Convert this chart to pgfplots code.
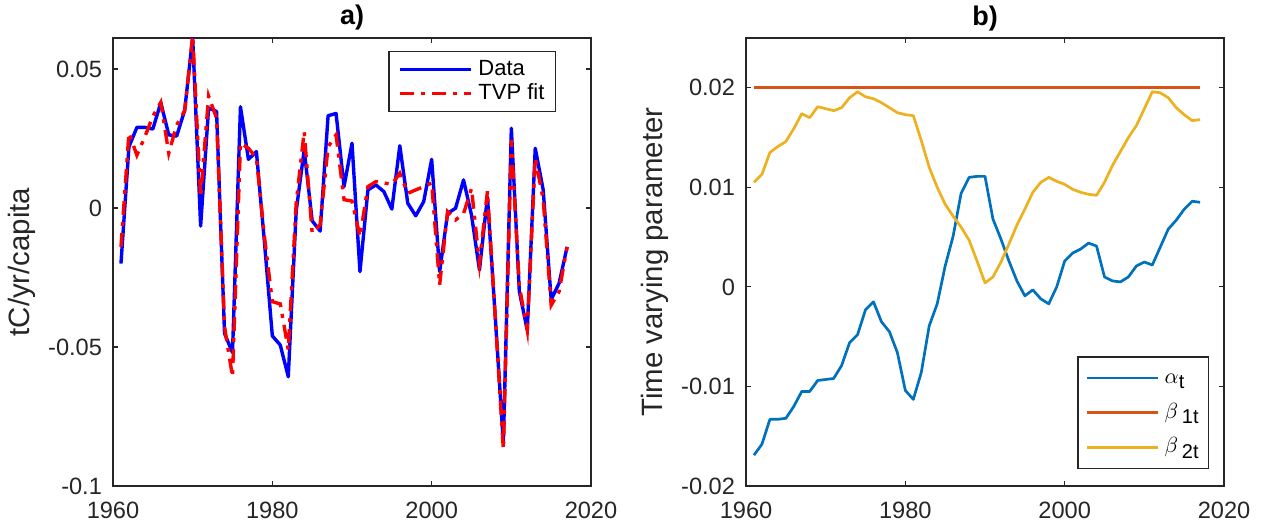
\documentclass[border=0pt]{standalone}
\usepackage{pgfplots}
\pgfplotsset{compat=1.18}
\usepackage{pgfplotstable}
\usepackage{fontspec}
\setmainfont{Liberation Sans}
\definecolor{axgray}{gray}{0.15}
\definecolor{mblue}{HTML}{0072BD}
\definecolor{morange}{HTML}{D95319}
\definecolor{myellow}{HTML}{EDB120}
\newcommand\sub[1]{\raisebox{-0.45ex}{\fontsize{10}{10}\selectfont #1}}

% panel a): per capita emissions change and TVP fit
\pgfplotstableread{
year data fit
1961 -0.0200 -0.0140
1962 0.0220 0.0270
1963 0.0290 0.0190
1964 0.0290 0.0256
1965 0.0284 0.0330
1966 0.0379 0.0380
1967 0.0263 0.0197
1968 0.0259 0.0299
1969 0.0352 0.0350
1970 0.0614 0.0620
1971 -0.0065 0.0040
1972 0.0360 0.0403
1973 0.0347 0.0323
1974 -0.0451 -0.0427
1975 -0.0520 -0.0607
1976 0.0364 0.0233
1977 0.0175 0.0215
1978 0.0203 0.0180
1979 -0.0120 -0.0100
1980 -0.0460 -0.0337
1981 -0.0493 -0.0345
1982 -0.0607 -0.0510
1983 -0.0010 0.0020
1984 0.0209 0.0275
1985 -0.0046 -0.0090
1986 -0.0083 -0.0060
1987 0.0332 0.0220
1988 0.0340 0.0263
1989 0.0077 0.0030
1990 0.0233 0.0025
1991 -0.0229 -0.0103
1992 0.0065 0.0077
1993 0.0083 0.0095
1994 0.0059 0.0090
1995 -0.0004 0.0085
1996 0.0224 0.0125
1997 0.0017 0.0053
1998 -0.0028 0.0065
1999 0.0023 0.0077
2000 0.0175 0.0090
2001 -0.0229 -0.0277
2002 -0.0019 -0.0013
2003 -0.0001 -0.0043
2004 0.0101 -0.0020
2005 -0.0025 0.0070
2006 -0.0223 -0.0200
2007 0.0040 0.0060
2008 -0.0400 -0.0400
2009 -0.0846 -0.0870
2010 0.0287 0.0245
2011 -0.0300 -0.0280
2012 -0.0439 -0.0440
2013 0.0215 0.0180
2014 0.0065 0.0030
2015 -0.0330 -0.0350
2016 -0.0270 -0.0300
2017 -0.0140 -0.0140
}\tabA

% panel b): time varying parameters
\pgfplotstableread{
year alpha beta1 beta2
1961 -0.0169 0.02 0.0105
1962 -0.0158 0.02 0.0113
1963 -0.0133 0.02 0.0135
1964 -0.0133 0.02 0.0141
1965 -0.0132 0.02 0.0146
1966 -0.0120 0.02 0.0159
1967 -0.0105 0.02 0.0174
1968 -0.0105 0.02 0.0170
1969 -0.0094 0.02 0.0181
1970 -0.0093 0.02 0.0179
1971 -0.0092 0.02 0.0177
1972 -0.0079 0.02 0.0180
1973 -0.0056 0.02 0.0190
1974 -0.0048 0.02 0.0196
1975 -0.0023 0.02 0.0191
1976 -0.0015 0.02 0.0189
1977 -0.0035 0.02 0.0185
1978 -0.0045 0.02 0.0180
1979 -0.0066 0.02 0.0175
1980 -0.0104 0.02 0.0173
1981 -0.0113 0.02 0.0172
1982 -0.0086 0.02 0.0147
1983 -0.0039 0.02 0.0120
1984 -0.0017 0.02 0.0100
1985 0.0021 0.02 0.0083
1986 0.0051 0.02 0.0071
1987 0.0094 0.02 0.0060
1988 0.0110 0.02 0.0047
1989 0.0111 0.02 0.0026
1990 0.0111 0.02 0.0004
1991 0.0068 0.02 0.0010
1992 0.0048 0.02 0.0025
1993 0.0026 0.02 0.0043
1994 0.0006 0.02 0.0062
1995 -0.0009 0.02 0.0078
1996 -0.0003 0.02 0.0095
1997 -0.0012 0.02 0.0105
1998 -0.0017 0.02 0.0110
1999 0.0000 0.02 0.0106
2000 0.0026 0.02 0.0103
2001 0.0034 0.02 0.0098
2002 0.0038 0.02 0.0095
2003 0.0044 0.02 0.0093
2004 0.0041 0.02 0.0092
2005 0.0010 0.02 0.0105
2006 0.0006 0.02 0.0122
2007 0.0005 0.02 0.0136
2008 0.0010 0.02 0.0150
2009 0.0021 0.02 0.0162
2010 0.0025 0.02 0.0179
2011 0.0022 0.02 0.0196
2012 0.0040 0.02 0.0195
2013 0.0058 0.02 0.0190
2014 0.0067 0.02 0.0180
2015 0.0078 0.02 0.0173
2016 0.0086 0.02 0.0167
2017 0.0085 0.02 0.0168
}\tabB

\pgfplotsset{
  matlab/.style={
    scale only axis, width=239pt, height=224pt,
    xmin=1960, xmax=2020, xtick={1960,1980,2000,2020},
    scaled y ticks=false,
    tick align=inside, xtick pos=both, ytick pos=both,
    xticklabel pos=lower, yticklabel pos=left,
    major tick length=2.5pt,
    axis line style={axgray, line width=0.6pt},
    every tick/.style={axgray, line width=0.6pt},
    tick label style={font=\fontsize{11.8}{13}\selectfont, text=axgray},
    /pgf/number format/assume math mode=true,
    /pgf/number format/1000 sep={},
    xticklabel style={yshift=-4.5pt},
    yticklabel style={xshift=-2pt},
    every axis y label/.style={at={(axis description cs:-0.19,0.5)}, rotate=90,
      anchor=center, font=\fontsize{14.7}{16}\selectfont, text=axgray},
    every axis title/.style={at={(0.5,1)}, anchor=base, yshift=6.5pt,
      font=\fontsize{13.5}{15}\selectfont\bfseries},
    legend cell align=left,
    legend image code/.code={\draw[##1] (0pt,0pt) -- (35.5pt,0pt);},
  },
}

\begin{document}
\begin{tikzpicture}
\useasboundingbox (-56.5pt,-19.5pt) rectangle (574pt,243pt);

\begin{axis}[matlab, at={(0pt,0pt)}, anchor=south west,
    ymin=-0.1, ymax=0.06115,
    ytick={-0.1,-0.05,0,0.05}, yticklabels={-0.1,-0.05,0,0.05},
    title={a)}, ylabel={tC/yr/capita},
    legend style={at={(0.927,0.971)}, anchor=north east, draw=axgray,
      line width=0.6pt, font=\fontsize{11}{13}\selectfont,
      inner xsep=4.5pt, inner ysep=3.3pt, column sep=2pt, row sep=0.5pt,
      nodes={inner sep=1pt, text height=0.75em, text depth=0.2em}},
  ]
  \addplot[blue, line width=1.7pt, line join=round] table[x=year, y=data] {\tabA};
  \addlegendentry{Data}
  \addplot[red, line width=1.7pt, dash pattern=on 7pt off 3.5pt on 2pt off 3.5pt] table[x=year, y=fit] {\tabA};
  \addlegendentry{TVP fit}
\end{axis}

\begin{axis}[matlab, at={(316.5pt,0pt)}, anchor=south west,
    ymin=-0.02, ymax=0.025,
    ytick={-0.02,-0.01,0,0.01,0.02}, yticklabels={-0.02,-0.01,0,0.01,0.02},
    title={b)}, ylabel={Time varying parameter},
    legend style={at={(0.969,0.038)}, anchor=south east, draw=axgray,
      line width=0.6pt, font=\fontsize{11}{13}\selectfont,
      inner xsep=4pt, inner ysep=2.3pt, column sep=1.5pt, row sep=0.8pt,
      nodes={inner sep=1pt, text height=1.0em, text depth=0.45em}},
  ]
  \addplot[mblue, line width=1.35pt, line join=round] table[x=year, y=alpha] {\tabB};
  \addlegendentry{$\alpha$\sub{t}}
  \addplot[morange, line width=1.35pt] table[x=year, y=beta1] {\tabB};
  \addlegendentry{$\beta$\,\sub{1t}}
  \addplot[myellow, line width=1.35pt, line join=round] table[x=year, y=beta2] {\tabB};
  \addlegendentry{$\beta$\,\sub{2t}}
\end{axis}
\end{tikzpicture}
\end{document}
